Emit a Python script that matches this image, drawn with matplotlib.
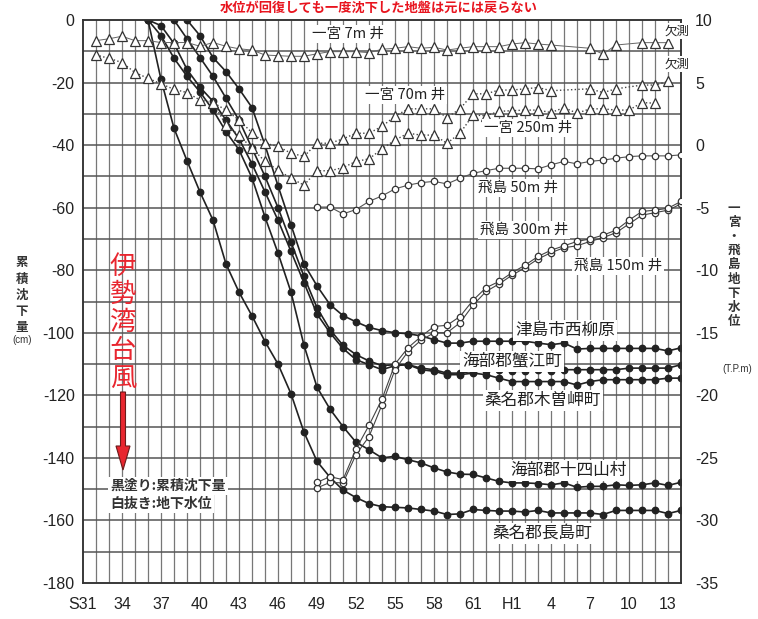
import matplotlib
matplotlib.use("Agg")
import matplotlib.pyplot as plt
import numpy as np
from matplotlib.patches import FancyArrow

plt.rcParams["font.family"] = ["Noto Sans CJK JP", "DejaVu Sans"]

# -----------------------------
# Cumulative subsidence (cm, left axis)
# -----------------------------
years_nagashima = np.arange(1961, 2003)
nagashima = [0, -19, -34.6, -45, -55, -64, -78, -87, -94.6, -102.8,
             -110, -119.5, -131.8, -141.1, -146.2, -150.3, -152.7, -154.6, -155.6, -155.8,
             -156, -156.5, -157, -158.1, -157.9, -156.5, -156.8, -157, -157, -157.3,
             -156.8, -157.6, -157.6, -157.6, -157.6, -158.1, -156.8, -156.8, -156.8, -156.8,
             -157.8, -156.8]

years_jushiyama = np.arange(1961, 2003)
jushiyama = [0, -5, -12.2, -18, -23, -28.8, -35.7, -41.5, -50.5, -63,
             -74.5, -87, -104, -117.4, -124.4, -130, -135, -137.4, -140, -139.5,
             -140.6, -141.6, -143.2, -144.5, -145.2, -145.3, -146.4, -147.5, -148, -148,
             -148.2, -148.6, -148, -149.4, -149.1, -149.1, -148.6, -148.8, -148.6, -148,
             -148.8, -147.8]

years_tsushima = np.arange(1964, 2003)
tsushima = [0, -5, -12, -16.5, -22, -28, -40, -53, -65.5, -78,
            -85, -91, -94.5, -96.5, -98.3, -99.3, -100, -100.3, -101, -102.2,
            -103.3, -103.3, -102.7, -102.7, -102.7, -102.7, -102.7, -103.3, -103.8, -103.3,
            -105.2, -105, -105, -105, -105, -105, -105, -105.8, -104.8]

years_kanie = np.arange(1963, 2003)
kanie = [0, -6, -12, -18, -25, -32, -41, -50, -60, -71,
         -82, -92, -99, -104, -107, -109, -110.5, -110.2, -110.2, -111.3,
         -111.8, -112.9, -112.9, -112.3, -112.3, -111.8, -112.3, -112.3, -111.8, -112.3,
         -111.8, -111.8, -111.8, -111.8, -111.8, -111.3, -111.3, -111.3, -111.3, -110.2]

years_kisosaki = np.arange(1961, 2003)
kisosaki = [0, -1.8, -7.5, -15.8, -21.5, -26, -32, -38, -46, -55,
            -64, -74, -84, -94, -100, -105, -108.6, -110.2, -111.8, -110.5,
            -110.2, -111.8, -112.3, -113.4, -113.4, -112.9, -113.4, -114.5, -115.6, -115.6,
            -115.6, -115.6, -115.6, -116.7, -115.6, -115, -115, -115, -115, -115,
            -114.5, -114.5]

# -----------------------------
# Groundwater level (T.P. m, right axis)
# -----------------------------
years_ichi7 = list(range(1957, 1993)) + [1995, 1996, 1997, 1999, 2000, 2001]
ichi7 = [8.35, 8.5, 8.7, 8.35, 8.35, 8.2, 8.2, 8.2, 7.9, 8.2,
         7.9, 7.7, 7.6, 7.2, 7.15, 7.1, 7.1, 7.3, 7.47, 7.47,
         7.47, 7.39, 7.66, 7.74, 7.87, 7.74, 7.82, 7.6, 7.74, 7.87,
         7.87, 7.87, 8.08, 8.19, 8.08, 8.0,
         7.74, 7.28, 8.0, 8.19, 8.19, 8.19]

years_ichi70 = list(range(1957, 1993)) + [1995, 1996, 1997, 1999, 2000, 2001]
ichi70 = [7.2, 6.94, 6.6, 5.8, 5.34, 4.9, 4.46, 4.2, 3.6, 3.4,
          2.8, 2.0, 1.0, 0.15, -0.1, -0.65, -0.9, 0.15, 0.15, 0.5,
          0.95, 0.95, 1.5, 2.3, 2.9, 2.9, 2.9, 2.2, 2.9, 4.1,
          4.1, 4.4, 4.4, 4.5, 4.6, 4.35,
          4.5, 4.2, 4.5, 4.8, 4.8, 5.1]

years_ichi250 = np.arange(1966, 2001)
ichi250 = [3.4, 1.6, 0.8, -0.25, -1.3, -2.0, -2.65, -3.2, -2.05, -2.05,
           -1.8, -1.3, -1.1, -0.3, 0.4, 0.95, 0.8, 0.8, 0.15, 0.95,
           2.4, 2.35, 2.7, 2.75, 2.8, 2.8, 2.6, 3.0, 2.55, 2.9,
           2.9, 2.8, 2.8, 3.4, 3.35]

years_tobi50 = np.arange(1974, 2003)
tobi50 = [-4.95, -4.95, -5.5, -5.15, -4.5, -4.06, -3.5, -3.2, -3.0, -2.9,
          -3.1, -2.65, -2.25, -2.04, -1.85, -1.85, -1.85, -1.9, -1.58, -1.3,
          -1.5, -1.3, -1.2, -1.05, -0.92, -0.86, -0.86, -0.86, -0.78]

years_tobi150 = np.arange(1974, 2003)
tobi150 = [-26.96, -26.5, -26.74, -24.3, -22.4, -20.3, -17.5, -16.2, -15.3, -14.5,
           -14.4, -13.7, -12.4, -11.4, -10.9, -10.2, -9.6, -8.9, -8.4, -8.05,
           -7.7, -7.5, -7.2, -6.8, -6.0, -5.3, -5.2, -5.05, -4.5]

years_tobi300 = np.arange(1974, 2003)
tobi300 = [-27.4, -26.96, -27.0, -24.74, -23.3, -20.75, -17.95, -16.5, -15.6, -15.0,
           -15.0, -14.2, -12.8, -11.7, -11.1, -10.4, -9.8, -9.1, -8.6, -8.2,
           -8.05, -7.7, -7.4, -7.0, -6.3, -5.6, -5.4, -5.2, -4.7]

year_ticks = np.arange(1956, 2002, 3)
year_labels = ["S31", "34", "37", "40", "43", "46", "49", "52", "55", "58",
               "61", "H1", "4", "7", "10", "13"]

W, H = 758, 619
NUM_FONT = ["Liberation Sans Narrow", "Liberation Sans", "DejaVu Sans"]
INK = "#222222"

fig = plt.figure(figsize=(W / 100, H / 100), dpi=100)
fig.patch.set_facecolor("white")
ax = fig.add_axes([83 / W, 1 - 583 / H, (681 - 83) / W, (583 - 20) / H])
ax.set_xlim(1956, 2002)
ax.set_ylim(-180, 0)
ax2 = ax.twinx()
ax2.set_ylim(-35, 10)

# yearly vertical grid, 10 cm horizontal grid
for yr in range(1957, 2002):
    ax.axvline(yr, color="#777777", lw=0.9, zorder=0)
for v in range(-170, 0, 10):
    ax.axhline(v, color="#555555", lw=1.1, zorder=0)
for a in (ax, ax2):
    for s in a.spines.values():
        s.set_color("#333333")
        s.set_linewidth(1.1)

ax.set_xticks(year_ticks)
ax.set_xticklabels(year_labels, family=NUM_FONT, fontsize=11.5, color=INK)
ax.set_yticks(np.arange(-180, 1, 20))
ax.set_yticklabels([str(v) for v in range(-180, 1, 20)], family=NUM_FONT,
                   fontsize=11.5, color=INK)
ax.tick_params(axis="x", length=0, pad=10)
ax.tick_params(axis="y", length=0, pad=6)
ax2.set_yticks(np.arange(-35, 11, 5))
ax2.set_yticklabels([str(v) for v in range(-35, 11, 5)], family=NUM_FONT,
                    fontsize=11.5, color=INK)
ax2.tick_params(axis="y", length=0, pad=10)

# subsidence: filled circles
for yrs, vals in [(years_nagashima, nagashima), (years_jushiyama, jushiyama),
                  (years_tsushima, tsushima), (years_kanie, kanie),
                  (years_kisosaki, kisosaki)]:
    ax.plot(yrs, vals, "-o", color=INK, lw=1.2, ms=4.6, mfc=INK, mec=INK, zorder=3)

# groundwater: open markers
tri = dict(marker="^", ms=6.5, mfc="white", mec="#333333", mew=0.9)
ax2.plot(years_ichi7, ichi7, "-", color="#666666", lw=0.7, **tri, zorder=4)
ax2.plot(years_ichi70, ichi70, ":", color="#444444", lw=1.0, **tri, zorder=4)
ax2.plot(years_ichi250, ichi250, ":", color="#444444", lw=1.0, **tri, zorder=4)
circ = dict(marker="o", ms=4.6, mfc="white", mec="#333333", mew=0.9)
ax2.plot(years_tobi50, tobi50, "-", color="#555555", lw=0.8, **circ, zorder=4)
ax2.plot(years_tobi300, tobi300, "-", color="#444444", lw=0.8, **circ, zorder=4)
ax2.plot(years_tobi150, tobi150, "-", color="#444444", lw=0.8, **circ, zorder=4)

# series names, placed in pixel positions with white boxes over the grid
def px_label(x, y, text, size=12, **kw):
    fig.text(x / W, 1 - y / H, text, ha="center", va="center", fontsize=size,
             color=INK, zorder=10,
             bbox=dict(boxstyle="square,pad=0.12", fc="white", ec="none"), **kw)

px_label(348, 34, "一宮 7m 井", size=10.5)
px_label(405, 95, "一宮 70m 井", size=10.5)
px_label(528, 128, "一宮 250m 井", size=10.5)
px_label(518, 188, "飛島 50m 井", size=10.5)
px_label(524, 230, "飛島 300m 井", size=10.5)
px_label(618, 266, "飛島 150m 井", size=10.5)
px_label(677, 31, "欠測", size=9)
px_label(677, 64, "欠測", size=9)
px_label(565, 330, "津島市西柳原")
px_label(512, 361, "海部郡蟹江町")
px_label(543, 400, "桑名郡木曽岬町")
px_label(569, 470, "海部郡十四山村")
px_label(542, 533, "桑名郡長島町")

# legend note
fig.text(110 / W, 1 - 486 / H, "黒塗り:累積沈下量", ha="left", va="center",
         fontsize=10, fontweight="bold", color="#333333", zorder=10,
         bbox=dict(boxstyle="square,pad=0.15", fc="white", ec="none"))
fig.text(110 / W, 1 - 504 / H, "白抜き:地下水位", ha="left", va="center",
         fontsize=10, fontweight="bold", color="#333333", zorder=10,
         bbox=dict(boxstyle="square,pad=0.15", fc="white", ec="none"))

# vertical axis titles
def vertical_text(x, y0, step, text, **kw):
    for i, ch in enumerate(text):
        fig.text(x / W, 1 - (y0 + i * step) / H, ch, ha="center", va="center", **kw)

vertical_text(22, 263, 16, "累積沈下量", fontsize=9, fontweight="bold", color="#333333")
fig.text(22 / W, 1 - 340 / H, "(cm)", ha="center", va="center", fontsize=7,
         color="#333333", family=NUM_FONT)
vertical_text(734, 208, 14.2, "一宮・飛島地下水位", fontsize=9, fontweight="bold",
              color="#333333")
fig.text(737 / W, 1 - 369 / H, "(T.P.m)", ha="center", va="center", fontsize=7,
         color="#333333", family=NUM_FONT)

# typhoon marker
vertical_text(123, 266, 28, "伊勢湾台風", fontsize=19, color="#e8262f")
fig.add_artist(FancyArrow(123 / W, 1 - 392 / H, 0, -(470 - 392) / H,
                          width=5 / W, head_width=14 / W, head_length=24 / H,
                          length_includes_head=True, fc="#e8262f", ec="#6b1a1a",
                          lw=0.8, transform=fig.transFigure, zorder=11))

# red heading along the top edge
fig.text(0.5, 1 - 8 / H, "水位が回復しても一度沈下した地盤は元には戻らない", ha="center",
         va="center", fontsize=9.5, color="#e8141e", fontweight="bold")

fig.savefig("out.png", dpi=100)
